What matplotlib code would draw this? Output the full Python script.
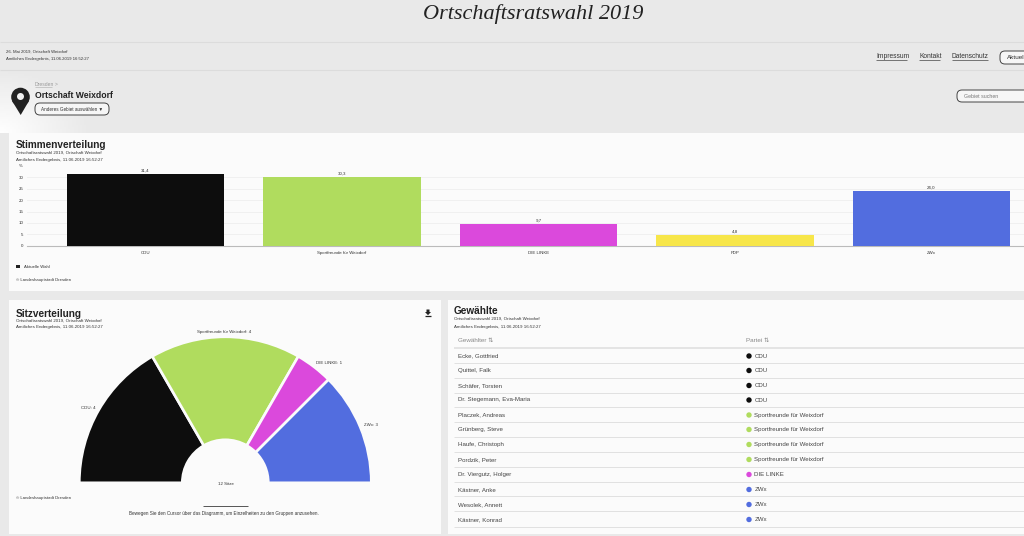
import numpy as np
import matplotlib
matplotlib.use("Agg")
import matplotlib.pyplot as plt
from matplotlib.patches import Rectangle, FancyBboxPatch, Circle, Polygon

plt.rcParams['font.family'] = ['Liberation Sans', 'DejaVu Sans']

parties = ["CDU", "Sportfreunde für Weixdorf", "DIE LINKE", "FDP", "ZWx"]
vote_share = [31.4, 30.3, 9.7, 4.8, 24.0]
vote_labels = ["31,4", "30,3", "9,7", "4,8", "24,0"]
party_colors = ["#0d0d0d", "#b0dc5e", "#db49dc", "#f7e64a", "#526ddf"]
y_ticks = [0, 5, 10, 15, 20, 25, 30]

seat_parties = ["CDU", "Sportfreunde für Weixdorf", "DIE LINKE", "ZWx"]
seats = [4, 4, 1, 3]
seat_colors = ["#0d0d0d", "#b0dc5e", "#db49dc", "#526ddf"]

elected = ["Ecke, Gottfried", "Quittel, Falk", "Schäfer, Torsten", "Dr. Stegemann, Eva-Maria",
           "Placzek, Andreas", "Grünberg, Steve", "Haufe, Christoph", "Pordzik, Peter",
           "Dr. Viergutz, Holger", "Kästner, Anke", "Wesolek, Annett", "Kästner, Konrad"]
elected_party = ["CDU", "CDU", "CDU", "CDU",
                 "Sportfreunde für Weixdorf", "Sportfreunde für Weixdorf",
                 "Sportfreunde für Weixdorf", "Sportfreunde für Weixdorf",
                 "DIE LINKE", "ZWx", "ZWx", "ZWx"]

W, H = 1024, 536
fig = plt.figure(figsize=(W / 100, H / 100), dpi=100, facecolor="#e9e9e9")

# page layer in pixel coordinates
pg = fig.add_axes([0, 0, 1, 1], zorder=0)
pg.set_xlim(0, W); pg.set_ylim(H, 0); pg.axis("off")


def T(x, y, s, size=3.15, color="#333333", ha="left", **kw):
    return pg.text(x, y, s, fontsize=size, color=color, ha=ha, va="center", **kw)


def hline(x0, x1, y, color="#d9d9d9", lw=0.8):
    pg.plot([x0, x1], [y, y], color=color, lw=lw, solid_capstyle="butt")


def box(x, y, w, h, fc="#fbfbfb"):
    pg.add_patch(Rectangle((x, y), w, h, fc=fc, ec="none"))


def pill(x, y, w, h, fc="#f6f6f6"):
    pg.add_patch(FancyBboxPatch((x + 5, y + 5), w - 10, h - 10, boxstyle="round,pad=5",
                                fc=fc, ec="#444444", lw=0.7, clip_on=True))


# soft light patch behind the place marker (layout decoration)
gx = np.linspace(0, 90, 46)
gy = np.linspace(70, 133, 32)
gc = 0.5 * (gx[:-1] + gx[1:]) / 90
gr = (133 - 0.5 * (gy[:-1] + gy[1:])) / 63
grad = np.clip(1 - np.hypot(gc[None, :], gr[:, None]), 0, 1)
rgba = np.ones((len(gr), len(gc), 4)); rgba[..., 3] = grad
pg.pcolormesh(gx, gy, rgba, shading="flat", zorder=0.5, linewidth=0, edgecolors="none")
pg.set_xlim(0, W); pg.set_ylim(H, 0)

# header
T(533, 14, "Ortschaftsratswahl 2019", size=16, color="#222222", ha="center",
  family="Liberation Serif", style="italic")
hline(0, W, 41.5, "#dcdcdc"); hline(0, W, 69.5, "#dcdcdc")
T(6, 51.5, "26. Mai 2019, Ortschaft Weixdorf", size=3.07)
T(6, 59, "Amtliches Endergebnis, 11.06.2019 16:52:27", size=3.07)
for s, x0, x1 in [("Impressum", 876, 907), ("Kontakt", 919, 940), ("Datenschutz", 952, 988)]:
    T(x0, 57, s, size=4.75)
    hline(x0, x1, 60.3, "#444444", 0.5)
pill(1000, 51, 40, 13)
T(1007, 57.5, "Aktuell", size=4.6)

# place heading
T(35, 84, "Dresden", size=3.6, color="#999999")
hline(35, 52, 86.5, "#aaaaaa", 0.4)
T(55, 84, ">", size=3.6, color="#999999")
pg.add_patch(Circle((20.5, 97), 9.3, fc="#222222", ec="none"))
pg.add_patch(Polygon([(11.8, 100.5), (29.2, 100.5), (20.7, 115)], fc="#222222", ec="none"))
pg.add_patch(Circle((20.5, 96.5), 3.5, fc="#f2f2f2", ec="none"))
T(35, 95, "Ortschaft Weixdorf", size=6.2, color="#222222", weight="bold")
pill(35, 103, 74, 12)
T(72, 109, "Anderes Gebiet auswählen ▼", size=3.3, ha="center")
pill(957, 90, 80, 12)
T(964, 96, "Gebiet suchen", size=3.8, color="#777777")

# panels
box(9, 133, W - 9, 158)
box(9, 300, 432, 234)
box(448, 300, W - 448, 234)


def heading(x, y, title, y1, y2, first):
    T(x, y, title, size=7.2, color="#222222", weight="bold")
    T(x, y1, first, size=3.15)
    T(x, y2, "Amtliches Endergebnis, 11.06.2019 16:52:27", size=3.15)


first_line = "Ortschaftsratswahl 2019, Ortschaft Weixdorf"
heading(16, 145.5, "Stimmenverteilung", 153, 159.5, first_line)
heading(16, 314, "Sitzverteilung", 320.5, 327, first_line)
heading(454, 310.5, "Gewählte", 319, 326.7, first_line)

# vote-share bar chart
x_px0, x_px1 = 27, 1024
y_px0, y_px_top = 245.7, 164.0
px_per_unit = (245.7 - 177.3) / 30
band = 196.5
cx0 = 145.5
ax = fig.add_axes([x_px0 / W, 1 - y_px0 / H, (x_px1 - x_px0) / W, (y_px0 - y_px_top) / H], zorder=2)
ax.patch.set_alpha(0)
ax.set_xlim((x_px0 - cx0) / band, (x_px1 - cx0) / band)
ax.set_ylim(0, (y_px0 - y_px_top) / px_per_unit)
xs = np.arange(len(parties))
bars = ax.bar(xs, vote_share, width=0.8, color=party_colors, zorder=3)
for b, lab in zip(bars, vote_labels):
    ax.annotate(lab, (b.get_x() + b.get_width() / 2, b.get_height()), xytext=(0, 0.8),
                textcoords="offset points", ha="center", va="bottom", fontsize=3.2, color="#333333")
for s in ("top", "right", "left"):
    ax.spines[s].set_visible(False)
ax.spines["bottom"].set_color("#bbbbbb"); ax.spines["bottom"].set_linewidth(0.8)
ax.set_yticks(y_ticks)
ax.set_yticklabels([str(v) for v in y_ticks], fontsize=3.2, color="#333333")
ax.set_xticks(xs)
ax.set_xticklabels(parties, fontsize=3.2, color="#333333")
ax.tick_params(axis="y", length=0, pad=2.5)
ax.tick_params(axis="x", length=0, pad=3.5)
ax.grid(axis="y", color="#eeeeee", lw=0.6, zorder=0)
ax.set_axisbelow(True)
T(21, 166, "%", size=3.2, ha="center")
box(16, 264.5, 3.5, 3.5, fc="#222222")
T(24, 267, "Aktuelle Wahl", size=3.1)
T(16, 280, "© Landeshauptstadt Dresden", size=3.1)

# seat half-donut
cx, cy, R = 225.3, 482.8, 146.0
inner = 43.0
ax2 = fig.add_axes([(cx - R) / W, 1 - (cy + R) / H, 2 * R / W, 2 * R / H], zorder=2)
ax2.patch.set_alpha(0)
wedges, _ = ax2.pie(seats + [sum(seats)], colors=seat_colors + ["none"], startangle=180,
                    counterclock=False, radius=1,
                    wedgeprops=dict(width=1 - inner / R, edgecolor="#fbfbfb", linewidth=1.9))
wedges[-1].set_visible(False)
ax2.set_xlim(-1, 1); ax2.set_ylim(-1, 1)
ax2.set_aspect("equal")
ax2.set_position([(cx - R) / W, 1 - (cy + R) / H, 2 * R / W, 2 * R / H])

for (x, y), name, n in zip([(88.5, 408), (224, 332), (329, 363), (370.5, 425)], seat_parties, seats):
    T(x, y, f"{name}: {n}", size=3.15, ha="center")
T(225.7, 484, f"{sum(seats)} Sitze", size=3.15, ha="center")
T(16, 498, "© Landeshauptstadt Dresden", size=3.1)
hline(203, 248, 505.5, "#555555", 0.7)
T(224, 513.5, "Bewegen Sie den Cursor über das Diagramm, um Einzelheiten zu den Gruppen anzusehen.",
  size=3.3, ha="center")

# download icon
pg.add_patch(Polygon([(426.5, 309.5), (429.5, 309.5), (429.5, 312), (431, 312), (428, 315.2), (425, 312), (426.5, 312)],
                     fc="#222222", ec="none"))
hline(424.8, 431.2, 316.3, "#222222", 0.9)

# elected table
T(458.5, 340, "Gewählter ⇅", size=4.5, color="#888888")
T(746.5, 340, "Partei ⇅", size=4.5, color="#888888")
hline(454, W, 347.7, "#e4e4e4", 1.4)
row_text_y = [356, 370.5, 385.5, 400, 415, 429.5, 444.5, 459.5, 474.5, 489.5, 504.5, 519.5]
row_line_y = [363.3, 378, 392.7, 407.3, 422.3, 437.3, 452.3, 467.3, 482, 496.3, 511.3, 526.7]
color_of = dict(zip(parties, party_colors))
for name, party, yt, yl in zip(elected, elected_party, row_text_y, row_line_y):
    T(458.5, yt, name, size=4.45, color="#444444")
    pg.add_patch(Circle((749, yt), 2.7, fc=color_of[party], ec="none"))
    T(754.5, yt, party, size=4.45, color="#444444")
    hline(454, W, yl, "#dddddd", 0.6)

fig.savefig("out.png", dpi=100, facecolor=fig.get_facecolor())
